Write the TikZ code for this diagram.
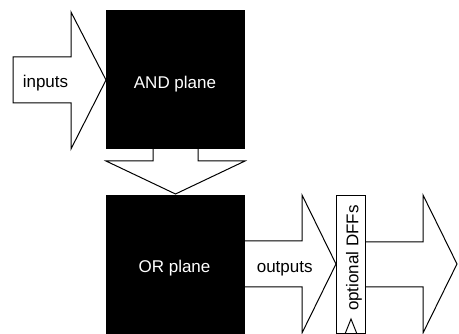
\documentclass[tikz,border=0pt]{standalone}
\usepackage{fontspec}
\setmainfont{Liberation Sans}
\begin{document}
\begin{tikzpicture}[x=1pt,y=-1pt,
  outline/.style={draw=black,line width=1pt,fill=white,line join=miter},
  plane/.style={fill=black,draw=none},
  lbl/.style={font=\fontsize{17}{19}\selectfont,inner sep=0pt},
  planelbl/.style={lbl,text=white}]
\useasboundingbox (0,0) rectangle (459,334);
\clip (0,0) rectangle (459,334);

% inputs arrow into the AND plane
\draw[outline] (13,57) -- (71,57) -- (71,12) -- (106,80) -- (71,149)
  -- (71,103) -- (13,103) -- cycle;
\node[lbl] (inputs) at (45.5,83.5) {inputs};

% arrow from the AND plane down to the OR plane
\draw[outline] (153,146) -- (153,161) -- (106,161) -- (175.5,194)
  -- (245,161) -- (198,161) -- (198,146);

% outputs arrow into the flip-flop bar
\draw[outline] (240,241) -- (302,241) -- (302,195) -- (336,264)
  -- (302,333) -- (302,287) -- (240,287);
\node[lbl] (outputs) at (284.7,268.5) {outputs};

% arrow leaving the flip-flop bar
\draw[outline] (365,242) -- (423,242) -- (423,195) -- (457,264)
  -- (423,333) -- (423,287) -- (365,287);

% the two planes
\node[plane,minimum width=139pt,minimum height=139pt,anchor=north west]
  (and) at (106,10) {};
\node[planelbl] (andlbl) at (175,84) {AND plane};
\node[plane,minimum width=139pt,minimum height=145pt,anchor=north west]
  (or) at (106,195) {};
\node[planelbl] (orlbl) at (174.5,268) {OR plane};

% optional flip-flops with clock mark
\node[outline,minimum width=29pt,minimum height=138pt,anchor=north west,
  inner sep=0pt] (dff) at (336,195) {};
\node[lbl,rotate=90] (dfflbl) at (354,258) {optional DFFs};
\draw[line width=1pt] (dff.south) ++(-6,0) -- ++(6,-15) -- ++(6,15);
\end{tikzpicture}
\end{document}
